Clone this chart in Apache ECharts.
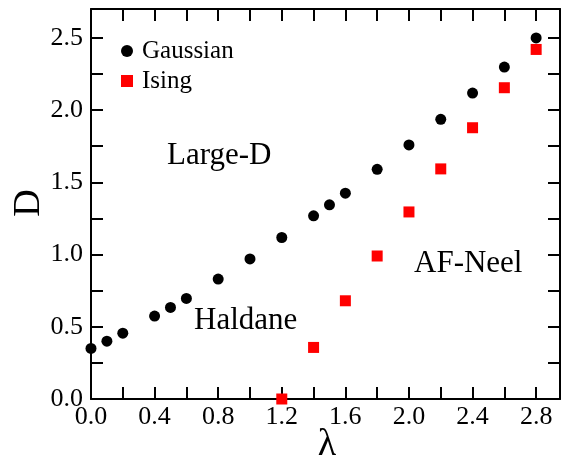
<!DOCTYPE html>
<html>
<head>
<meta charset="utf-8">
<script src="https://cdn.jsdelivr.net/npm/echarts@6/dist/echarts.min.js"></script>
<style>html,body{margin:0;padding:0;background:#fff}#c{width:570px;height:466px}</style>
</head>
<body>
<div id="c"></div>
<script>
const gaussX = [0.0, 0.1, 0.2, 0.4, 0.5, 0.6, 0.8, 1.0, 1.2, 1.4, 1.5, 1.6, 1.8, 2.0, 2.2, 2.4, 2.6, 2.8];
const gaussY = [0.35, 0.40, 0.456, 0.574, 0.634, 0.696, 0.83, 0.97, 1.118, 1.268, 1.344, 1.425, 1.59, 1.759, 1.936, 2.118, 2.298, 2.50];
const isingX = [1.2, 1.4, 1.6, 1.8, 2.0, 2.2, 2.4, 2.6, 2.8];
const isingY = [0.0, 0.357, 0.68, 0.99, 1.295, 1.593, 1.878, 2.155, 2.42];
const xLabelStep = 0.4;
const yLabelStep = 0.5;
const FONT = 'Liberation Serif';

function stepFmt(step) {
  return function (v) {
    const k = v / step;
    if (Math.abs(k - Math.round(k)) < 1e-6) return v.toFixed(1);
    return '';
  };
}
function mkX(pos, labels) {
  return {
    type: 'value', position: pos, min: 0, max: 2.95, interval: 0.2,
    axisLine: { show: true, onZero: false, lineStyle: { color: '#000', width: 2 } },
    axisTick: { show: true, inside: true, length: 12, lineStyle: { color: 'black', width: 2 } },
    axisLabel: labels ? { show: true, formatter: stepFmt(xLabelStep), fontFamily: FONT, fontSize: 26, color: '#000', margin: 5, showMaxLabel: false } : { show: false },
    splitLine: { show: false }
  };
}
function mkY(pos, labels) {
  return {
    type: 'value', position: pos, min: 0, max: 2.7, interval: 0.25,
    axisLine: { show: true, onZero: false, lineStyle: { color: '#000', width: 2 } },
    axisTick: { show: true, inside: true, length: 12, lineStyle: { color: 'black', width: 2 } },
    axisLabel: labels ? { show: true, formatter: stepFmt(yLabelStep), fontFamily: FONT, fontSize: 26, color: '#000', margin: 8, showMaxLabel: false } : { show: false },
    splitLine: { show: false }
  };
}

const chart = echarts.init(document.getElementById('c'), null, { renderer: 'canvas' });
chart.setOption({
  animation: false,
  grid: { left: 91, right: 10, top: 9, bottom: 67 },
  legend: {
    orient: 'vertical', left: 116, top: 33, itemGap: 4,
    itemWidth: 12, itemHeight: 12,
    textStyle: { fontFamily: FONT, fontSize: 25, color: '#000', lineHeight: 26, padding: [0, 0, 0, 4] },
    data: [
      { name: 'Gaussian', icon: 'circle' },
      { name: 'Ising', icon: 'rect' }
    ]
  },
  xAxis: [mkX('bottom', true), mkX('top', false)],
  yAxis: [mkY('left', true), mkY('right', false)],
  series: [
    {
      name: 'Gaussian', type: 'scatter', symbol: 'circle', symbolSize: 11,
      itemStyle: { color: '#000', opacity: 1 },
      data: gaussX.map((x, i) => [x, gaussY[i]])
    },
    {
      name: 'Ising', type: 'scatter', symbol: 'rect', symbolSize: 11,
      itemStyle: { color: '#ff0000', opacity: 1 },
      data: isingX.map((x, i) => [x, isingY[i]])
    }
  ],
  graphic: [
    { type: 'text', left: 167, top: 140, style: { text: 'Large-D', font: '31px "Liberation Serif"', fill: '#000' } },
    { type: 'text', left: 194, top: 305, style: { text: 'Haldane', font: '31px "Liberation Serif"', fill: '#000' } },
    { type: 'text', left: 414, top: 248, style: { text: 'AF-Neel', font: '31px "Liberation Serif"', fill: '#000' } },
    { type: 'text', x: 29, y: 203, rotation: Math.PI / 2, style: { text: 'D', font: '38px "Liberation Serif"', fill: '#000', align: 'center', verticalAlign: 'middle' } },
    { type: 'text', x: 327, y: 445, style: { text: 'λ', font: '38px "Liberation Serif"', fill: '#000', align: 'center', verticalAlign: 'middle' } }
  ]
});
</script>
</body>
</html>
